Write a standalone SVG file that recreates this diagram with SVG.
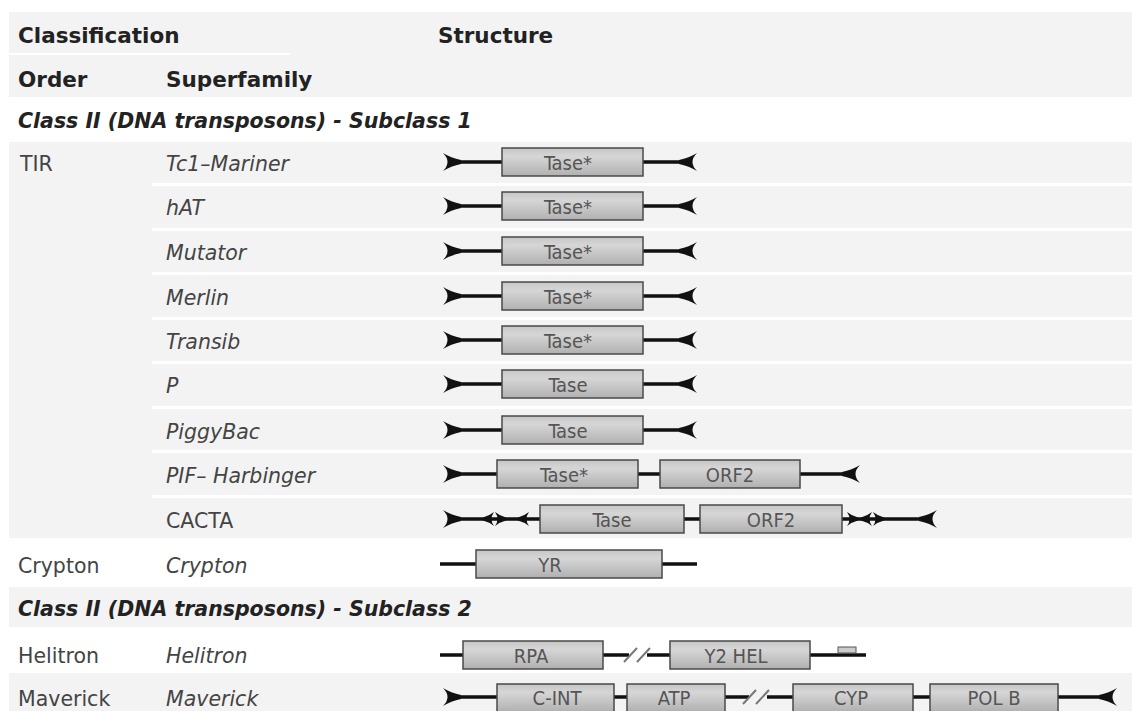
<svg xmlns="http://www.w3.org/2000/svg" width="1132" height="711" viewBox="0 0 1132 711">
<style>
  .bg{fill:#f3f3f3}
  .sep{fill:#ffffff}
  .hdr{font-family:"DejaVu Sans",Lato,sans-serif;font-weight:bold;font-size:21.5px;fill:#222}
  .cls{font-family:"DejaVu Sans",Lato,sans-serif;font-weight:bold;font-style:italic;font-size:20.5px;fill:#222}
  .ord{font-family:"DejaVu Sans",Lato,sans-serif;font-size:20.5px;fill:#444}
  .sf{font-family:"DejaVu Sans",Lato,sans-serif;font-style:italic;font-size:20.5px;fill:#444}
  .box rect{fill:url(#gbox);stroke:#4a4a4a;stroke-width:1.5}
  .box text{font-family:"DejaVu Sans Condensed","DejaVu Sans",sans-serif;font-stretch:condensed;font-size:20px;fill:#555;text-anchor:middle}
  .ln{stroke:#111;stroke-width:3.5;fill:none}
  .brk{stroke:#777;stroke-width:2;fill:none}
  .ah{fill:#111}
</style>
<defs>
  <linearGradient id="gbox" x1="0" y1="0" x2="0" y2="1">
    <stop offset="0" stop-color="#c6c6c6"/>
    <stop offset="0.3" stop-color="#d6d6d6"/>
    <stop offset="1" stop-color="#b0b0b0"/>
  </linearGradient>
  <path id="tirR" d="M0,-9 Q8,-4 18,-2 L18,2 Q8,4 0,9 Q9,0 0,-9 Z"/>
  <path id="tirL" d="M0,-9 Q-8,-4 -18,-2 L-18,2 Q-8,4 0,9 Q-9,0 0,-9 Z"/>
  <path id="srR" d="M0,-7 Q5,-3 11,-1.5 L11,1.5 Q5,3 0,7 Q5,0 0,-7 Z"/>
  <path id="srL" d="M0,-7 Q-5,-3 -11,-1.5 L-11,1.5 Q-5,3 0,7 Q-5,0 0,-7 Z"/>
</defs>

<g id="backgrounds">
  <rect class="bg" x="9" y="12" width="1123" height="85"/>
  <rect class="sep" x="9" y="53" width="281" height="2"/>
  <rect class="bg" x="9" y="142" width="1123" height="396"/>
  <rect class="sep" x="152" y="183" width="980" height="3"/>
  <rect class="sep" x="152" y="228" width="980" height="3"/>
  <rect class="sep" x="152" y="272" width="980" height="3"/>
  <rect class="sep" x="152" y="317" width="980" height="3"/>
  <rect class="sep" x="152" y="361" width="980" height="3"/>
  <rect class="sep" x="152" y="406" width="980" height="3"/>
  <rect class="sep" x="152" y="450" width="980" height="3"/>
  <rect class="sep" x="152" y="495" width="980" height="3"/>
  <rect class="bg" x="9" y="587" width="1123" height="40"/>
  <rect class="bg" x="9" y="673" width="1123" height="38"/>
</g>

<g id="headers">
  <text class="hdr" x="18" y="43">Classification</text>
  <text class="hdr" x="438" y="43">Structure</text>
  <text class="hdr" x="18" y="87">Order</text>
  <text class="hdr" x="166" y="87">Superfamily</text>
  <text class="cls" x="18" y="128">Class II (DNA transposons) - Subclass 1</text>
  <text class="cls" x="18" y="616">Class II (DNA transposons) - Subclass 2</text>
</g>

<g id="labels">
  <text class="ord" x="20" y="171">TIR</text>
  <text class="sf" x="166" y="171">Tc1–Mariner</text>
  <text class="sf" x="166" y="215">hAT</text>
  <text class="sf" x="166" y="260">Mutator</text>
  <text class="sf" x="166" y="305">Merlin</text>
  <text class="sf" x="166" y="349">Transib</text>
  <text class="sf" x="166" y="393">P</text>
  <text class="sf" x="166" y="439">PiggyBac</text>
  <text class="sf" x="166" y="483">PIF– Harbinger</text>
  <text class="ord" x="166" y="528">CACTA</text>
  <text class="ord" x="18" y="573">Crypton</text>
  <text class="sf" x="166" y="573">Crypton</text>
  <text class="ord" x="18" y="663">Helitron</text>
  <text class="sf" x="166" y="663">Helitron</text>
  <text class="ord" x="18" y="706">Maverick</text>
  <text class="sf" x="166" y="706">Maverick</text>
</g>

<g id="connectors">
  <path class="ln" d="M450,162H502 M643,162H690"/>
  <path class="ln" d="M450,206H502 M643,206H690"/>
  <path class="ln" d="M450,251H502 M643,251H690"/>
  <path class="ln" d="M450,296H502 M643,296H690"/>
  <path class="ln" d="M450,340H502 M643,340H690"/>
  <path class="ln" d="M450,384H502 M643,384H690"/>
  <path class="ln" d="M450,430H502 M643,430H690"/>
  <path class="ln" d="M450,474H497 M638,474H660 M800,474H853"/>
  <path class="ln" d="M450,519H540 M684,519H700 M842,519H930"/>
  <path class="ln" d="M440,564H476 M662,564H697"/>
  <path class="ln" d="M440,655H463 M603,655H629 M647,655H670 M810,655H866"/>
  <path class="brk" d="M624,662L637,648 M637,662L650,648"/>
  <path class="ln" d="M450,697H497 M614,697H627 M725,697H749 M767,697H793 M913,697H930 M1058,697H1110"/>
  <path class="brk" d="M743,704L756,690 M756,704L769,690"/>
</g>

<g id="arrowheads" class="ah">
  <use href="#tirR" x="443" y="162"/><use href="#tirL" x="697" y="162"/>
  <use href="#tirR" x="443" y="206"/><use href="#tirL" x="697" y="206"/>
  <use href="#tirR" x="443" y="251"/><use href="#tirL" x="697" y="251"/>
  <use href="#tirR" x="443" y="296"/><use href="#tirL" x="697" y="296"/>
  <use href="#tirR" x="443" y="340"/><use href="#tirL" x="697" y="340"/>
  <use href="#tirR" x="443" y="384"/><use href="#tirL" x="697" y="384"/>
  <use href="#tirR" x="443" y="430"/><use href="#tirL" x="697" y="430"/>
  <use href="#tirR" x="443" y="474"/><use href="#tirL" x="860" y="474"/>
  <use href="#tirR" x="443" y="519"/><use href="#tirL" x="937" y="519"/>
  <use href="#srL" x="494" y="519"/><use href="#srR" x="495" y="519"/>
  <use href="#srL" x="529" y="519"/>
  <use href="#srR" x="847" y="519"/>
  <use href="#srL" x="872" y="519"/><use href="#srR" x="873" y="519"/>
  <use href="#tirR" x="443" y="697"/><use href="#tirL" x="1117" y="697"/>
  <rect x="838" y="647" width="18" height="6" fill="#ccc" stroke="#555" stroke-width="1"/>
</g>

<g id="row-tc1" class="box"><rect x="502" y="148" width="141" height="28"/><text x="568" y="170">Tase*</text></g>
<g id="row-hat" class="box"><rect x="502" y="192" width="141" height="28"/><text x="568" y="214">Tase*</text></g>
<g id="row-mutator" class="box"><rect x="502" y="237" width="141" height="28"/><text x="568" y="259">Tase*</text></g>
<g id="row-merlin" class="box"><rect x="502" y="282" width="141" height="28"/><text x="568" y="304">Tase*</text></g>
<g id="row-transib" class="box"><rect x="502" y="326" width="141" height="28"/><text x="568" y="348">Tase*</text></g>
<g id="row-p" class="box"><rect x="502" y="370" width="141" height="28"/><text x="568" y="392">Tase</text></g>
<g id="row-piggybac" class="box"><rect x="502" y="416" width="141" height="28"/><text x="568" y="438">Tase</text></g>
<g id="row-pif" class="box">
  <rect x="497" y="460" width="141" height="28"/><text x="564" y="482">Tase*</text>
  <rect x="660" y="460" width="140" height="28"/><text x="730" y="482">ORF2</text>
</g>
<g id="row-cacta" class="box">
  <rect x="540" y="505" width="144" height="28"/><text x="612" y="527">Tase</text>
  <rect x="700" y="505" width="142" height="28"/><text x="771" y="527">ORF2</text>
</g>
<g id="row-crypton" class="box"><rect x="476" y="550" width="186" height="28"/><text x="550" y="572">YR</text></g>
<g id="row-helitron" class="box">
  <rect x="463" y="641" width="140" height="28"/><text x="531" y="663">RPA</text>
  <rect x="670" y="641" width="140" height="28"/><text x="736" y="663">Y2 HEL</text>
</g>
<g id="row-maverick" class="box">
  <rect x="497" y="684" width="117" height="28"/><text x="557" y="705">C-INT</text>
  <rect x="627" y="684" width="98" height="28"/><text x="674" y="705">ATP</text>
  <rect x="793" y="684" width="120" height="28"/><text x="851" y="705">CYP</text>
  <rect x="930" y="684" width="128" height="28"/><text x="994" y="705">POL B</text>
</g>
</svg>
